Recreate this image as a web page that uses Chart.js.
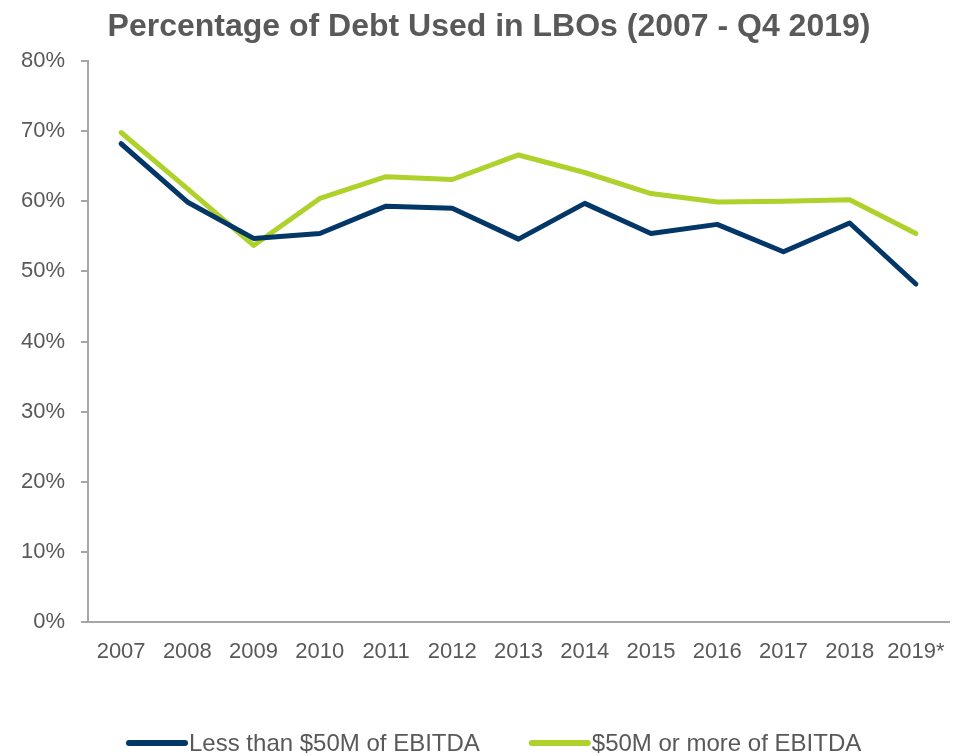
<!DOCTYPE html>
<html>
<head>
<meta charset="utf-8">
<script src="https://cdn.jsdelivr.net/npm/chart.js@4.4.1/dist/chart.umd.min.js"></script>
<style>
  html, body { margin: 0; padding: 0; background: #ffffff; }
  #wrap { width: 965px; height: 755px; position: relative; }
</style>
</head>
<body>
<div id="wrap"><canvas id="c" width="965" height="755"></canvas></div>
<script>
// Years on the category axis
const years = ['2007', '2008', '2009', '2010', '2011', '2012', '2013', '2014', '2015', '2016', '2017', '2018', '2019*'];

// Debt share of LBO financing, percent
const smallDeals = [68.2, 59.9, 54.7, 55.4, 59.3, 59.0, 54.6, 59.7, 55.4, 56.7, 52.8, 56.9, 48.2];
const largeDeals = [69.8, 61.8, 53.7, 60.4, 63.5, 63.1, 66.6, 64.1, 61.1, 59.9, 60.0, 60.2, 55.4];

// Y axis tick values
const yTicks = [0, 10, 20, 30, 40, 50, 60, 70, 80];

const chartTitle = 'Percentage of Debt Used in LBOs (2007 - Q4 2019)';
const seriesNames = ['Less than $50M of EBITDA', '$50M or more of EBITDA'];
const navy = '#023768';
const lime = '#AED12B';
const grey = '#595959';
const axisGrey = '#A6A6A6';
const fontFamily = '"Liberation Sans", Arial, sans-serif';

// Title centred over the plot plus the axis labels
const headline = {
  id: 'headline',
  afterDraw(chart) {
    const ctx = chart.ctx;
    ctx.save();
    ctx.font = 'bold 32px ' + fontFamily;
    ctx.fillStyle = grey;
    ctx.textAlign = 'center';
    ctx.textBaseline = 'middle';
    ctx.fillText(chartTitle, 489, 27);
    ctx.restore();
  }
};

// Legend drawn under the axis: short thick stroke followed closely by the series name
const bottomLegend = {
  id: 'bottomLegend',
  afterDraw(chart) {
    const ctx = chart.ctx;
    const lineLen = 56, gap = 4, itemGap = 52;
    const y = chart.height - 12;
    ctx.save();
    ctx.font = '24px ' + fontFamily;
    ctx.textBaseline = 'middle';
    ctx.textAlign = 'left';
    let x = 129;
    chart.data.datasets.forEach((ds) => {
      ctx.strokeStyle = ds.borderColor;
      ctx.lineWidth = 6;
      ctx.lineCap = 'round';
      ctx.beginPath();
      ctx.moveTo(x, y);
      ctx.lineTo(x + lineLen, y);
      ctx.stroke();
      ctx.fillStyle = grey;
      ctx.fillText(ds.label, x + lineLen + gap, y + 1);
      x += lineLen + gap + ctx.measureText(ds.label).width + itemGap;
    });
    ctx.restore();
  }
};

new Chart(document.getElementById('c'), {
  type: 'line',
  data: {
    labels: years,
    datasets: [
      { label: seriesNames[0], data: smallDeals, borderColor: navy, backgroundColor: navy,
        borderWidth: 5, pointRadius: 0, tension: 0, borderCapStyle: 'round', borderJoinStyle: 'round' },
      { label: seriesNames[1], data: largeDeals, borderColor: lime, backgroundColor: lime,
        borderWidth: 5, pointRadius: 0, tension: 0, borderCapStyle: 'round', borderJoinStyle: 'round' }
    ]
  },
  options: {
    responsive: false,
    animation: false,
    layout: { padding: { left: 0, right: 16, top: 61, bottom: 0 } },
    plugins: {
      title: { display: false },
      legend: { display: false },
      tooltip: { enabled: false }
    },
    scales: {
      x: {
        offset: true,
        grid: { display: false, drawTicks: false, offset: true },
        border: { color: axisGrey, width: 2 },
        ticks: { color: grey, font: { family: fontFamily, size: 22 }, padding: 17, maxRotation: 0, autoSkip: false },
        afterFit: (s) => { s.height = 133; }
      },
      y: {
        min: 0,
        max: 80,
        afterBuildTicks: (s) => { s.ticks = yTicks.map(v => ({ value: v })); },
        grid: { drawOnChartArea: false, drawTicks: true, tickLength: 7, color: axisGrey, lineWidth: 2 },
        border: { color: axisGrey, width: 2 },
        ticks: { color: grey, font: { family: fontFamily, size: 22 }, padding: 16,
                 callback: (v) => v + '%' },
        afterFit: (s) => { s.width = 88; }
      }
    }
  },
  plugins: [headline, bottomLegend]
});
</script>
</body>
</html>
